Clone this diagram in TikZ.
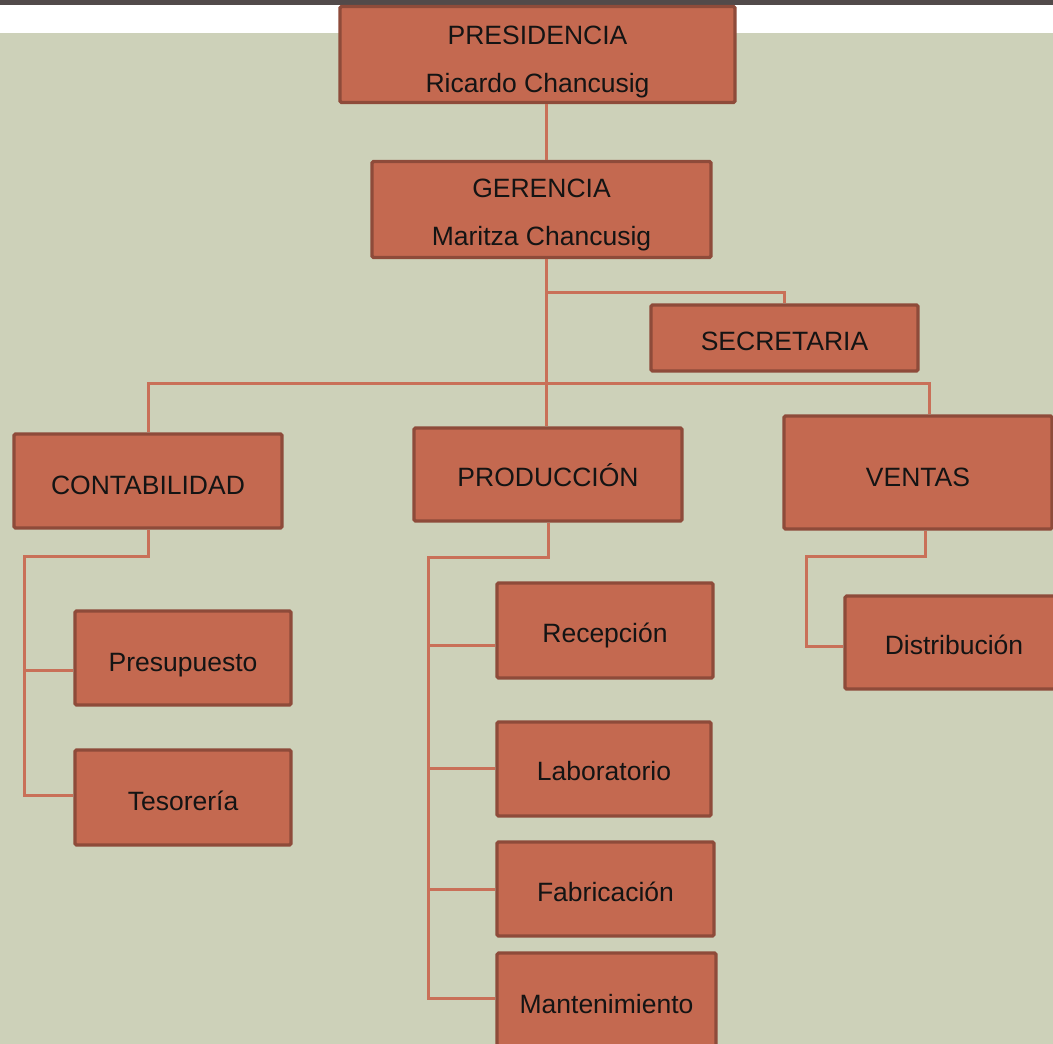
\documentclass[tikz,border=0pt]{standalone}
\usepackage{fontspec}
\setmainfont{Liberation Sans}
\definecolor{barcol}{RGB}{82,74,74}
\definecolor{pagecol}{RGB}{205,209,185}
\definecolor{boxfill}{RGB}{196,105,80}
\definecolor{boxedge}{RGB}{142,75,58}
\definecolor{linkcol}{RGB}{201,112,88}
% lowers a (possibly two-line) label inside its box, keeping the box size
\newcommand{\lowlabel}[2]{\raisebox{-#1pt}[\height][\depth]{\begin{tabular}{@{}c@{}}#2\end{tabular}}}
\begin{document}
\begin{tikzpicture}[x=1pt,y=-1pt,
  unit/.style={draw=boxedge,fill=boxfill,line width=3.2pt,rounded corners=1.5pt,
    rectangle,inner sep=0pt,text=black!92,
    font=\fontsize{26.5}{48}\selectfont},
  link/.style={draw=linkcol,line width=3pt}]
\useasboundingbox (0,0) rectangle (1053,1044);
\clip (0,0) rectangle (1053,1044);
% page background
\fill[barcol] (0,0) rectangle (1053,5);
\fill[white] (0,5) rectangle (1053,33);
\fill[pagecol] (0,33) rectangle (1053,1044);

% junction points
\coordinate (trunk) at (546,0);
\coordinate (secbr) at (546,292);
\coordinate (busL) at (148,383);
\coordinate (busR) at (929,383);
\coordinate (cL) at (24,556);
\coordinate (pL) at (428,557);
\coordinate (vL) at (806,556);

% boxes
\node[unit,minimum width=395,minimum height=95] (pres) at (537.5,54.5) {\lowlabel{4}{PRESIDENCIA\\Ricardo Chancusig}};
\node[unit,minimum width=339,minimum height=93] (ger) at (541.5,209.5) {\lowlabel{2.5}{GERENCIA\\Maritza Chancusig}};
\node[unit,minimum width=267,minimum height=66] (sec) at (784.5,338) {\lowlabel{3}{SECRETARIA}};
\node[unit,minimum width=268,minimum height=94] (cont) at (148,481) {\lowlabel{4}{CONTABILIDAD}};
\node[unit,minimum width=268,minimum height=93] (prod) at (548,474.5) {\lowlabel{2}{PRODUCCIÓN}};
\node[unit,minimum width=268,minimum height=113] (vent) at (918,472.5) {\lowlabel{4}{VENTAS}};
\node[unit,minimum width=216,minimum height=94] (presu) at (183,658) {\lowlabel{4}{Presupuesto}};
\node[unit,minimum width=216,minimum height=95] (teso) at (183,797.5) {\lowlabel{3}{Tesorería}};
\node[unit,minimum width=216,minimum height=95] (recep) at (605,630.5) {\lowlabel{2}{Recepción}};
\node[unit,minimum width=214,minimum height=94] (lab) at (604,769) {\lowlabel{2}{Laboratorio}};
\node[unit,minimum width=217,minimum height=94] (fab) at (605.5,889) {\lowlabel{3}{Fabricación}};
\node[unit,minimum width=219,minimum height=93] (mant) at (606.5,999.5) {\lowlabel{4}{Mantenimiento}};
\node[unit,minimum width=218,minimum height=93] (dist) at (954,642.5) {\lowlabel{2}{Distribución}};

% connectors
\draw[link] (pres.south -| trunk) -- (ger.north -| trunk);
\draw[link] (ger.south -| trunk) -- (prod.north -| trunk);
\draw[link] (secbr) -| (sec.north);
\draw[link] (cont.north) -- (busL) -- (busR) -- (busR |- vent.north);
% accounting branch
\draw[link] (cont.south) |- (cL) -- (24,795) -- (teso.west |- 24,795);
\draw[link] (24,670) -- (presu.west |- 24,670);
% production branch
\draw[link] (prod.south) |- (pL) -- (428,998) -- (mant.west |- 428,998);
\draw[link] (428,645) -- (recep.west |- 428,645);
\draw[link] (428,768) -- (lab.west |- 428,768);
\draw[link] (428,889) -- (fab.west |- 428,889);
% sales branch
\draw[link] (vent.south -| 925,0) -- (925,556) -- (vL) -- (806,646) -- (dist.west |- 806,646);
\end{tikzpicture}
\end{document}
